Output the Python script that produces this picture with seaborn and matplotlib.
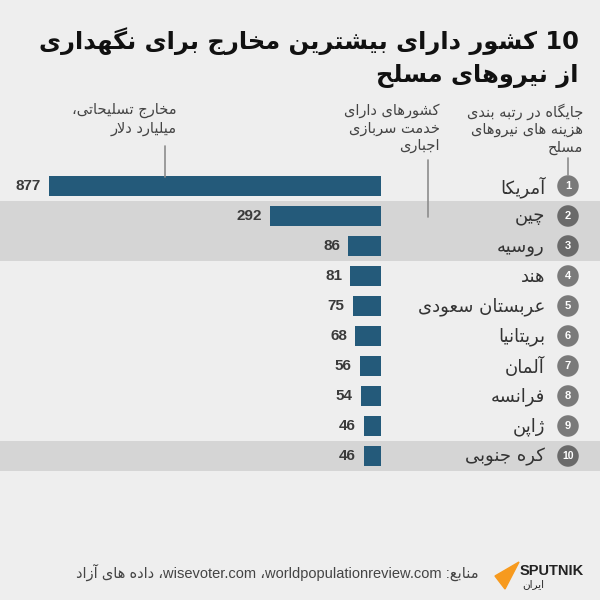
import numpy as np
import pandas as pd
import matplotlib
matplotlib.use("Agg")
import matplotlib.pyplot as plt
import matplotlib.patheffects as pe
from matplotlib.lines import Line2D
from matplotlib.patches import Polygon
from matplotlib.font_manager import FontProperties, findfont
from matplotlib.ft2font import FT2Font
import seaborn as sns

# data
countries = ["آمریکا", "چین", "روسیه", "هند", "عربستان سعودی",
             "بریتانیا", "آلمان", "فرانسه", "ژاپن", "کره جنوبی"]
spending = [877, 292, 86, 81, 75, 68, 56, 54, 46, 46]
ranks = [1, 2, 3, 4, 5, 6, 7, 8, 9, 10]
conscription = [False, True, True, False, False, False, False, False, False, True]

title_lines = ["10 کشور دارای بیشترین مخارج برای نگهداری", "از نیروهای مسلح"]
head_rank = ["جایگاه در رتبه بندی", "هزینه های نیروهای", "مسلح"]
head_consc = ["کشورهای دارای", "خدمت سربازی", "اجباری"]
head_spend = ["مخارج تسلیحاتی،", "میلیارد دلار"]
source = "منابع: worldpopulationreview.com، wisevoter.com، داده های آزاد"
logo_sub = "ایران"

BG = "#eeeeee"
BAND = "#d5d5d5"
BAR = "#245a7a"

# --- minimal persian shaping + rtl ordering (matplotlib has no text shaping) ---
FORMS = {
    '\u0622': (0xFE81, 0xFE82, None, None),
    '\u0627': (0xFE8D, 0xFE8E, None, None),
    '\u0628': (0xFE8F, 0xFE90, 0xFE91, 0xFE92),
    '\u067E': (0xFB56, 0xFB57, 0xFB58, 0xFB59),
    '\u062A': (0xFE95, 0xFE96, 0xFE97, 0xFE98),
    '\u062B': (0xFE99, 0xFE9A, 0xFE9B, 0xFE9C),
    '\u062C': (0xFE9D, 0xFE9E, 0xFE9F, 0xFEA0),
    '\u0686': (0xFB7A, 0xFB7B, 0xFB7C, 0xFB7D),
    '\u062D': (0xFEA1, 0xFEA2, 0xFEA3, 0xFEA4),
    '\u062E': (0xFEA5, 0xFEA6, 0xFEA7, 0xFEA8),
    '\u062F': (0xFEA9, 0xFEAA, None, None),
    '\u0630': (0xFEAB, 0xFEAC, None, None),
    '\u0631': (0xFEAD, 0xFEAE, None, None),
    '\u0632': (0xFEAF, 0xFEB0, None, None),
    '\u0698': (0xFB8A, 0xFB8B, None, None),
    '\u0633': (0xFEB1, 0xFEB2, 0xFEB3, 0xFEB4),
    '\u0634': (0xFEB5, 0xFEB6, 0xFEB7, 0xFEB8),
    '\u0635': (0xFEB9, 0xFEBA, 0xFEBB, 0xFEBC),
    '\u0636': (0xFEBD, 0xFEBE, 0xFEBF, 0xFEC0),
    '\u0637': (0xFEC1, 0xFEC2, 0xFEC3, 0xFEC4),
    '\u0638': (0xFEC5, 0xFEC6, 0xFEC7, 0xFEC8),
    '\u0639': (0xFEC9, 0xFECA, 0xFECB, 0xFECC),
    '\u063A': (0xFECD, 0xFECE, 0xFECF, 0xFED0),
    '\u0641': (0xFED1, 0xFED2, 0xFED3, 0xFED4),
    '\u0642': (0xFED5, 0xFED6, 0xFED7, 0xFED8),
    '\u06A9': (0xFB8E, 0xFB8F, 0xFB90, 0xFB91),
    '\u06AF': (0xFB92, 0xFB93, 0xFB94, 0xFB95),
    '\u0644': (0xFEDD, 0xFEDE, 0xFEDF, 0xFEE0),
    '\u0645': (0xFEE1, 0xFEE2, 0xFEE3, 0xFEE4),
    '\u0646': (0xFEE5, 0xFEE6, 0xFEE7, 0xFEE8),
    '\u0647': (0xFEE9, 0xFEEA, 0xFEEB, 0xFEEC),
    '\u0648': (0xFEED, 0xFEEE, None, None),
    '\u06CC': (0xFBFC, 0xFBFD, 0xFBFE, 0xFBFF),
}
LAMALEF = {'\u0627': (0xFEFB, 0xFEFC), '\u0622': (0xFEF5, 0xFEF6)}


def charmap(weight):
    return FT2Font(findfont(FontProperties(family="DejaVu Sans", weight=weight))).get_charmap()


CMAP = charmap("normal")
CMAP_BOLD = charmap("bold")


def shape(text, cmap):
    s = text.replace('\u064A', '\u06CC').replace('\u0643', '\u06A9')
    dual = lambda c: c in FORMS and FORMS[c][2] is not None
    out = []
    i = 0
    while i < len(s):
        c = s[i]
        if c not in FORMS:
            if c != '\u200c':
                out.append(c)
            i += 1
            continue
        prev = s[i - 1] if i > 0 else ''
        nxt = s[i + 1] if i + 1 < len(s) else ''
        cp = dual(prev)
        if c == '\u0644' and nxt in LAMALEF:
            g = LAMALEF[nxt][1 if cp else 0]
            out.append(chr(g) if g in cmap else c + nxt)
            i += 2
            continue
        cn = dual(c) and nxt in FORMS
        iso, fin, ini, med = FORMS[c]
        g = med if (cp and cn) else fin if cp else ini if cn else iso
        out.append(chr(g) if g in cmap else c)
        i += 1
    return ''.join(out)


def rtl(text, bold=False):
    s = shape(text, CMAP_BOLD if bold else CMAP)
    def kind(c):
        if '\u0600' <= c <= '\u06ff' or '\ufb50' <= c <= '\ufeff':
            return 'R'
        if c.isascii() and c.isalnum():
            return 'L'
        return 'N'
    raw = [kind(c) for c in s]
    types = []
    for i, t in enumerate(raw):
        if t == 'N':
            p = next((raw[j] for j in range(i - 1, -1, -1) if raw[j] != 'N'), 'R')
            n = next((raw[j] for j in range(i + 1, len(s)) if raw[j] != 'N'), 'R')
            t = p if p == n else 'R'
        types.append(t)
    runs = []
    for c, t in zip(s, types):
        if runs and runs[-1][0] == t:
            runs[-1][1].append(c)
        else:
            runs.append([t, [c]])
    return ''.join(''.join(ch[::-1]) if t == 'R' else ''.join(ch) for t, ch in runs[::-1])


sns.set_theme(style="white")
plt.rcParams['font.family'] = ['DejaVu Sans']

fig = plt.figure(figsize=(6, 6), dpi=100, facecolor=BG)
ax = fig.add_axes([0, 129 / 600, 1, 300 / 600])
ax.set_facecolor(BG)

px_per = 332 / 877
x0px = 381


def xdata(p):
    return (x0px - p) / px_per


def fx(p):
    return p / 600


def fy(p):
    return 1 - p / 600


df = pd.DataFrame({"country": countries, "spending": spending})
sns.barplot(data=df, x="spending", y="country", orient="h", color=BAR,
            saturation=1, width=0.66, linewidth=0, ax=ax, zorder=2)
ax.set_xlim(xdata(0), xdata(600))
ax.set_ylim(9.5, -0.5)
ax.axis("off")

for i, c in enumerate(conscription):
    if c:
        ax.axhspan(i - 0.5, i + 0.5, color=BAND, zorder=0, lw=0)

ax.bar_label(ax.containers[0], padding=6, fontsize=11, fontweight="bold",
             color="#3a3a3a", family="Liberation Sans")

circ_colors = ["#6a6a6a" if c else "#7a7a7a" for c in conscription]
ax.scatter([xdata(568)] * len(ranks), range(len(ranks)), s=240, color=circ_colors,
           zorder=3, linewidths=0)
for i, r in enumerate(ranks):
    ax.text(xdata(568), i, str(r), ha="center", va="center", color="white",
            fontsize=8 if r < 10 else 7.5, fontweight="bold", family="Liberation Sans", zorder=4)
    ax.text(xdata(545), i + 0.04, rtl(countries[i]), ha="right", va="center",
            fontsize=13, color="#333333", zorder=4)

# title
bold_ok = all(ord(ch) in CMAP_BOLD for ch in shape(''.join(title_lines), CMAP_BOLD) if not ch.isspace())
tkw = dict(fontweight="bold") if bold_ok else dict(
    path_effects=[pe.withStroke(linewidth=1.1, foreground="#111111")])
for k, line in enumerate(title_lines):
    fig.text(fx(579), fy(49 + 33 * k), rtl(line, bold_ok), ha="right", va="baseline",
             fontsize=17.4, color="#111111", **tkw)

# column headers
for lines, xr in [(head_rank, 583), (head_consc, 440), (head_spend, 177)]:
    fig.text(fx(xr), fy(103), "\n".join(rtl(l) for l in lines), ha="right", va="top",
             fontsize=10.5, color="#444444", linespacing=1.2)

for x, y0, y1 in [(568, 158, 175), (428, 160, 217), (165, 146, 177)]:
    fig.add_artist(Line2D([fx(x), fx(x)], [fy(y0), fy(y1)], color="#8c8c8c", lw=1.2,
                          transform=fig.transFigure, zorder=5))

# footer
fig.text(fx(479), fy(572), rtl(source), ha="right", va="center", fontsize=10.5, color="#444444",
         family=["Liberation Sans", "DejaVu Sans"])
fig.add_artist(Polygon([(fx(519), fy(562)), (fx(495), fy(576)), (fx(505), fy(589))],
                       closed=True, color="#f79a1e", transform=fig.transFigure))
fig.text(fx(520), fy(571), "SPUTNIK", ha="left", va="center", fontsize=10.5,
         fontweight="bold", color="#222222", family="Liberation Sans")
fig.text(fx(522), fy(584), rtl(logo_sub), ha="left", va="center", fontsize=7.5, color="#222222")

fig.savefig("out.png", dpi=100, facecolor=BG)
